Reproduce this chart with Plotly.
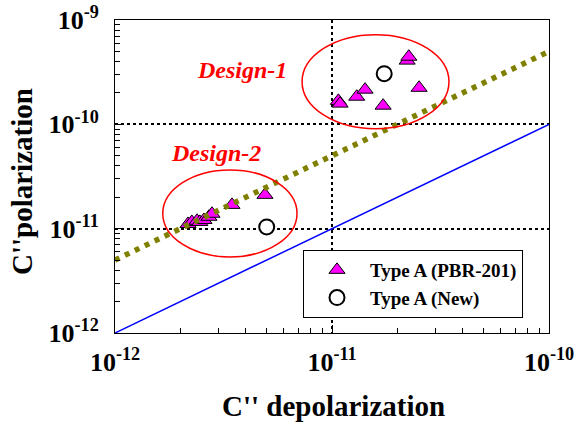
import plotly.graph_objects as go

# Capacitance C'' measured in depolarization vs polarization (F)
pbr_depol = [2.17e-12, 2.26e-12, 2.39e-12, 2.46e-12, 2.57e-12, 2.71e-12, 2.80e-12,
             3.46e-12, 4.91e-12,
             1.07e-11, 1.09e-11, 1.30e-11, 1.42e-11, 1.72e-11, 2.52e-11, 2.22e-11, 2.26e-11]
pbr_pol = [1.11e-11, 1.16e-11, 1.19e-11, 1.16e-11, 1.21e-11, 1.30e-11, 1.39e-11,
           1.69e-11, 2.11e-11,
           1.68e-10, 1.58e-10, 1.84e-10, 2.15e-10, 1.51e-10, 2.24e-10, 4.08e-10, 4.45e-10]

new_depol = [5.0e-12, 1.74e-11]
new_pol = [1.04e-11, 3.06e-10]

# Reference lines: C''pol = C''depol and C''pol = 5 * C''depol
line_x = [1e-12, 1e-10]
unity_y = [1e-12, 1e-10]
ratio5_y = [5e-12, 5e-10]

decades_x = [1e-12, 1e-11, 1e-10]
decades_y = [1e-12, 1e-11, 1e-10, 1e-9]
labels_x = ["10<sup>-12</sup>", "10<sup>-11</sup>", "10<sup>-10</sup>"]
labels_y = ["10<sup>-12</sup>", "10<sup>-11</sup>", "10<sup>-10</sup>", "10<sup>-9</sup>"]

FONT = "Liberation Serif"

fig = go.Figure()

fig.add_trace(go.Scatter(
    x=pbr_depol, y=pbr_pol, mode="markers", name="Type A (PBR-201)",
    marker=dict(symbol="triangle-up", size=14, color="#ff00ff",
                line=dict(color="black", width=1)),
))
fig.add_trace(go.Scatter(
    x=new_depol, y=new_pol, mode="markers", name="Type A (New)",
    marker=dict(symbol="circle", size=15, color="white",
                line=dict(color="black", width=2)),
))
fig.add_trace(go.Scatter(
    x=line_x, y=unity_y, mode="lines", showlegend=False,
    line=dict(color="#0000ff", width=1.5),
))
fig.add_trace(go.Scatter(
    x=line_x, y=ratio5_y, mode="lines", showlegend=False,
    line=dict(color="#808000", width=5.5, dash="5px,6px"),
))

minor_x = [k * d for d in decades_x[:-1] for k in range(2, 10)]
minor_y = [k * d for d in decades_y[:-1] for k in range(2, 10)]

axis_common = dict(
    type="log", showline=True, linecolor="black", linewidth=1, mirror=True,
    ticks="inside", ticklen=8, tickcolor="black", tickmode="array",
    showgrid=True, gridcolor="black", griddash="dot", gridwidth=1.5,
    zeroline=False, automargin=False,
    tickfont=dict(family=FONT, size=26, color="black", weight="bold"),
)

fig.update_xaxes(**axis_common, range=[-12, -10], tickvals=decades_x, ticktext=labels_x,
                 minor=dict(tickmode="array", tickvals=minor_x, ticks="inside",
                            ticklen=5, tickcolor="black", showgrid=False),
                 ticklabelstandoff=6)
fig.update_yaxes(**axis_common, range=[-12, -9], tickvals=decades_y, ticktext=labels_y,
                 minor=dict(tickmode="array", tickvals=minor_y, ticks="inside",
                            ticklen=5, tickcolor="black", showgrid=False),
                 ticklabelstandoff=10)

# Groupings of the two designs
fig.add_shape(type="circle", xref="x", yref="y",
              x0=1.66e-12, x1=6.90e-12, y0=5.36e-12, y1=3.66e-11,
              line=dict(color="#ff0000", width=1.5))
fig.add_shape(type="circle", xref="x", yref="y",
              x0=7.28e-12, x1=3.46e-11, y0=9.08e-11, y1=7.24e-10,
              line=dict(color="#ff0000", width=1.5))

design_font = dict(family=FONT, size=24, color="#ff0000", weight="bold", style="italic")
fig.add_annotation(text="Design-1", xref="paper", yref="paper",
                   x=(242 - 115) / 434, y=(333 - 70) / 313,
                   xanchor="center", yanchor="middle",
                   showarrow=False, font=design_font)
fig.add_annotation(text="Design-2", xref="paper", yref="paper",
                   x=(216 - 115) / 434, y=(333 - 153) / 313,
                   xanchor="center", yanchor="middle",
                   showarrow=False, font=design_font)

title_font = dict(family=FONT, size=29, color="black", weight="bold")
fig.add_annotation(text="C'' depolarization", xref="paper", yref="paper",
                   x=(333 - 115) / 434, y=(333 - 406) / 313,
                   xanchor="center", yanchor="middle",
                   showarrow=False, font=title_font)
fig.add_annotation(text="C''polarization", xref="paper", yref="paper",
                   x=(22 - 115) / 434, y=(333 - 182) / 313, textangle=-90,
                   xanchor="center", yanchor="middle",
                   showarrow=False, font=title_font)

fig.update_layout(
    width=584, height=422,
    margin=dict(l=115, r=35, t=20, b=89),
    paper_bgcolor="white", plot_bgcolor="white",
    showlegend=True,
    legend=dict(x=(303 - 115) / 434, y=(333 - 250) / 313, xanchor="left", yanchor="top",
                bgcolor="white", bordercolor="black", borderwidth=1,
                font=dict(family=FONT, size=19, color="black", weight="bold"),
                itemwidth=56),
)

fig.write_html("out.html")
